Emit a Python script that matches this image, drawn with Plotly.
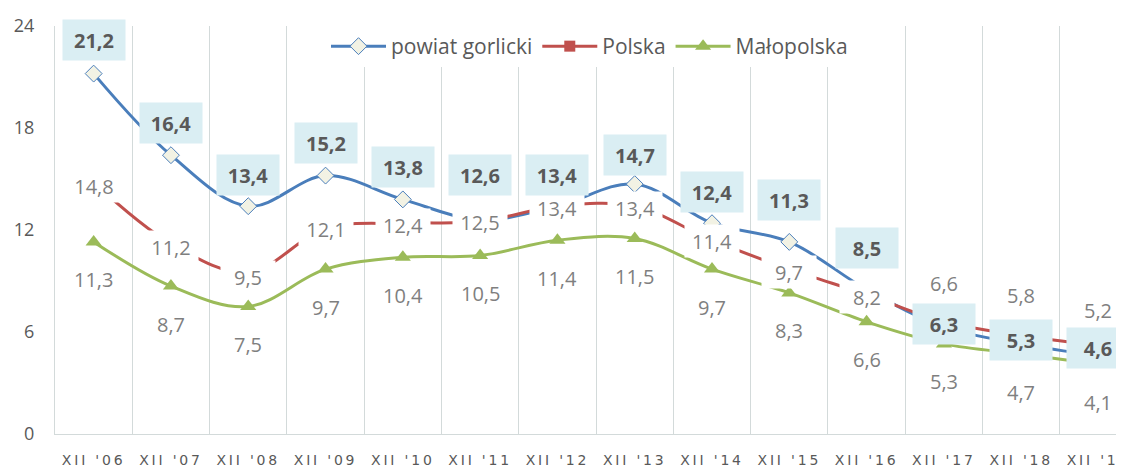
import plotly.graph_objects as go

categories = ["XII '06", "XII '07", "XII '08", "XII '09", "XII '10", "XII '11", "XII '12",
              "XII '13", "XII '14", "XII '15", "XII '16", "XII '17", "XII '18", "XII '19"]
powiat_gorlicki = [21.2, 16.4, 13.4, 15.2, 13.8, 12.6, 13.4, 14.7, 12.4, 11.3, 8.5, 6.3, 5.3, 4.6]
polska = [14.8, 11.2, 9.5, 12.1, 12.4, 12.5, 13.4, 13.4, 11.4, 9.7, 8.2, 6.6, 5.8, 5.2]
malopolska = [11.3, 8.7, 7.5, 9.7, 10.4, 10.5, 11.4, 11.5, 9.7, 8.3, 6.6, 5.3, 4.7, 4.1]

# label vertical offsets in pixels (positive = up), as placed in the original
shift_gorlicki = [34, 32, 31, 33, 32, 45, 31, 29, 31, 42, 42, 3, 4, 8]
shift_polska = [-4, -3, -4, -1, -2, 0, -2, -2, -1, -3, -2, 39, 40, 36]
shift_malopolska = [-38] * 14

BLUE = "#4a7ebb"
RED = "#c0504d"
GREEN = "#9bbb59"
GREY = "#595959"
LGREY = "#7f7f7f"
FONT = "Open Sans"

fig = go.Figure()
fig.add_trace(go.Scatter(
    x=categories, y=powiat_gorlicki, name="powiat gorlicki", mode="lines+markers",
    line=dict(color=BLUE, width=3, shape="spline", smoothing=1),
    marker=dict(symbol="diamond", size=13, color="#f2f2e4", line=dict(color=BLUE, width=1)),
))
fig.add_trace(go.Scatter(
    x=categories, y=polska, name="Polska", mode="lines+markers",
    line=dict(color=RED, width=3, shape="spline", smoothing=1),
    marker=dict(symbol="square", size=11, color=RED),
))
fig.add_trace(go.Scatter(
    x=categories, y=malopolska, name="Małopolska", mode="lines+markers",
    line=dict(color=GREEN, width=3, shape="spline", smoothing=1),
    marker=dict(symbol="triangle-up", size=14, color=GREEN),
))

def fmt(v):
    return f"{v:.1f}".replace(".", ",")

for c, v, s in zip(categories, polska, shift_polska):
    fig.add_annotation(x=c, y=v, xref="x", yref="y", text=fmt(v), showarrow=False,
                       yshift=s, bgcolor="white", width=52, height=30,
                       font=dict(family=FONT, size=20, color=LGREY))
for c, v, s in zip(categories, malopolska, shift_malopolska):
    fig.add_annotation(x=c, y=v, xref="x", yref="y", text=fmt(v), showarrow=False,
                       yshift=s, font=dict(family=FONT, size=20, color=LGREY))
for c, v, s in zip(categories, powiat_gorlicki, shift_gorlicki):
    fig.add_annotation(x=c, y=v, xref="x", yref="y", text="<b>" + fmt(v) + "</b>",
                       showarrow=False, yshift=s, bgcolor="#daeef3", width=60, height=38,
                       font=dict(family=FONT, size=20, color=GREY))

tick_text = ['<span style="letter-spacing:2.8px">' + c + '</span>' for c in categories]

fig.update_layout(
    width=1116, height=462,
    margin=dict(l=47, r=0, t=18, b=36),
    paper_bgcolor="white", plot_bgcolor="white",
    showlegend=True,
    legend=dict(orientation="h", x=0.5, xanchor="center", y=1.0, yanchor="top",
                bgcolor="white", font=dict(family=FONT, size=21, color=GREY),
                itemwidth=55),
    xaxis=dict(type="category", range=[-0.5, 13.33], tickson="boundaries",
               tickvals=categories, ticktext=tick_text, automargin=False,
               showgrid=True, gridcolor="#d3dada", gridwidth=1,
               showline=True, linecolor="#d3dada", ticks="", ticklabelstandoff=13,
               tickfont=dict(family="DejaVu Sans", size=14, color=GREY), fixedrange=True),
    yaxis=dict(range=[0, 24], tickvals=[0, 6, 12, 18, 24], showgrid=False, zeroline=False,
               showline=True, linecolor="#d3dada", ticks="", ticklabelstandoff=16,
               automargin=False, tickfont=dict(family=FONT, size=18, color=GREY)),
)

fig.write_html("out.html")
